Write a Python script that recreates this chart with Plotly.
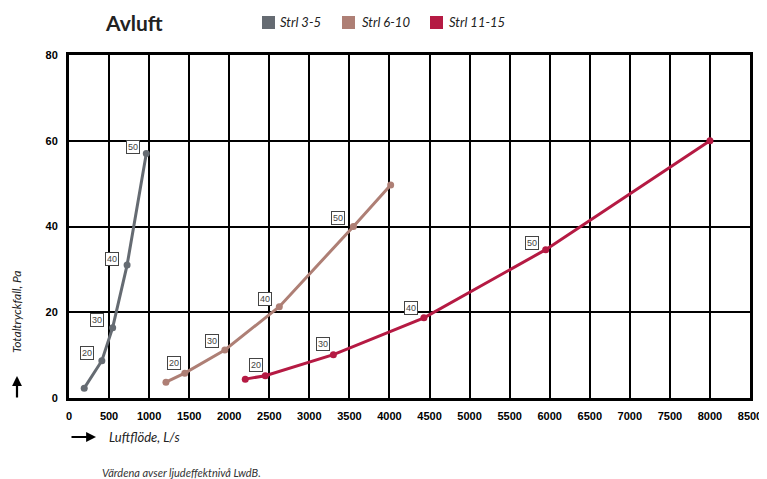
import plotly.graph_objects as go

# ---- data ----
series_names = ["Strl 3-5", "Strl 6-10", "Strl 11-15"]
series_colors = ["#656b72", "#ae7f75", "#b51a43"]

flow_3_5 = [190, 410, 545, 725, 965]
dp_3_5 = [2.3, 8.7, 16.4, 31.0, 57.0]

flow_6_10 = [1210, 1445, 1945, 2625, 3550, 4015]
dp_6_10 = [3.7, 5.8, 11.2, 21.3, 40.0, 49.7]

flow_11_15 = [2200, 2450, 3300, 4430, 5950, 8000]
dp_11_15 = [4.4, 5.2, 10.1, 18.7, 34.6, 60.0]

# sound power level labels (LwdB) with their positions
lw_text = ["20", "30", "40", "50"]
lw_x_3_5 = [220, 345, 540, 795]
lw_y_3_5 = [10.4, 18.3, 32.4, 58.6]
lw_x_6_10 = [1311, 1785, 2447, 3354]
lw_y_6_10 = [8.2, 13.4, 23.0, 42.0]
lw_x_11_15 = [2330, 3171, 4266, 5784]
lw_y_11_15 = [7.8, 12.7, 20.9, 36.1]

x_ticks = list(range(0, 8501, 500))
y_ticks = [0, 20, 40, 60, 80]

# plot area in page pixels (used only for placing paper-referenced texts)
PL, PR, PT, PB = 69, 750, 55, 398
PW, PH = PR - PL, PB - PT


def px(x):
    return (x - PL) / PW


def py(y):
    return (PB - y) / PH


fig = go.Figure()

for name, color, xs, ys in zip(series_names, series_colors,
                               [flow_3_5, flow_6_10, flow_11_15],
                               [dp_3_5, dp_6_10, dp_11_15]):
    fig.add_trace(go.Scatter(x=xs, y=ys, mode="lines+markers", name=name,
                             line=dict(color=color, width=3),
                             marker=dict(color=color, size=7),
                             showlegend=False, hoverinfo="x+y"))

for lx, ly in [(lw_x_3_5, lw_y_3_5), (lw_x_6_10, lw_y_6_10), (lw_x_11_15, lw_y_11_15)]:
    for t, xx, yy in zip(lw_text, lx, ly):
        fig.add_annotation(x=xx, y=yy, text=t, showarrow=False,
                           font=dict(family="Liberation Sans", size=9, color="#444"),
                           bgcolor="white", bordercolor="#444", borderwidth=1, borderpad=1)

# Title
fig.add_annotation(xref="paper", yref="paper", x=px(103), y=py(22),
                   xanchor="left", yanchor="middle", text="<b>Avluft</b>", showarrow=False,
                   font=dict(family="Lato", size=21, color="#222"))

# Manual legend
leg_sq = [(262, 275), (342, 355), (430, 443)]
leg_tx = [278, 360, 447]
for (x0, x1), tx, name, color in zip(leg_sq, leg_tx, series_names, series_colors):
    fig.add_shape(type="rect", xref="paper", yref="paper",
                  x0=px(x0), x1=px(x1), y0=py(29), y1=py(16),
                  fillcolor=color, line=dict(width=0))
    fig.add_annotation(xref="paper", yref="paper", x=px(tx), y=py(22),
                       xanchor="left", yanchor="middle", text="<i>" + name + "</i>",
                       showarrow=False, font=dict(family="Lato", size=13, color="#222"))

# Axis titles with arrows
fig.add_annotation(xref="paper", yref="paper", x=px(107), y=py(437),
                   xanchor="left", yanchor="middle", text="<i>Luftflöde, L/s</i>",
                   showarrow=False, font=dict(family="Lato", size=13, color="#222"))
fig.add_annotation(xref="paper", yref="paper", x=px(96), y=py(437),
                   ax=-26, ay=0, text="", showarrow=True, arrowhead=2, arrowsize=0.9,
                   arrowwidth=2.2, arrowcolor="black")
fig.add_annotation(xref="paper", yref="paper", x=px(16), y=py(312),
                   xanchor="center", yanchor="middle", text="<i>Totaltryckfall, Pa</i>",
                   textangle=-90, showarrow=False, font=dict(family="Lato", size=12, color="#222"))
fig.add_annotation(xref="paper", yref="paper", x=px(17), y=py(376),
                   ax=0, ay=23, text="", showarrow=True, arrowhead=2, arrowsize=0.9,
                   arrowwidth=2.2, arrowcolor="black")

# Footnote
fig.add_annotation(xref="paper", yref="paper", x=px(100), y=py(472),
                   xanchor="left", yanchor="middle",
                   text="<i>Värdena avser ljudeffektnivå LwdB.</i>",
                   showarrow=False, font=dict(family="Lato", size=11, color="#333"))

axis_common = dict(showgrid=True, gridcolor="black", gridwidth=1.5, zeroline=False,
                   showline=True, linecolor="black", linewidth=3, mirror=True, ticks="",
                   tickfont=dict(family="Liberation Sans", size=11, color="black", weight="bold"),
                   ticklabelstandoff=6, automargin=False)
fig.update_xaxes(range=[0, 8500], tickvals=x_ticks, ticktext=[str(v) for v in x_ticks],
                 **axis_common)
fig.update_yaxes(range=[0, 80], tickvals=y_ticks, ticktext=[str(v) for v in y_ticks],
                 **axis_common)

# the page body adds an 8px offset, so the figure is 8px smaller and shifted
OFF = 8
W, H = 767 - OFF, 479 - OFF
fig.update_layout(width=W, height=H,
                  margin=dict(l=PL - OFF, r=W - (PR - OFF), t=PT - OFF, b=H - (PB - OFF)),
                  plot_bgcolor="white", paper_bgcolor="white", showlegend=False)

fig.write_html("out.html")
